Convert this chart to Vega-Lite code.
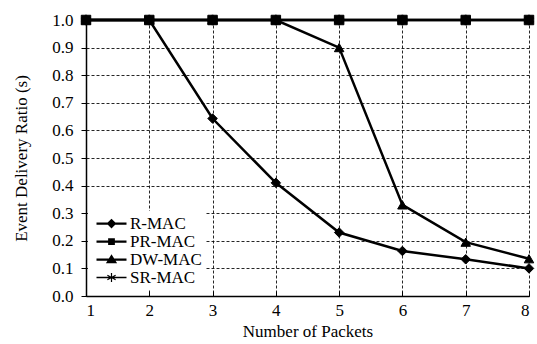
{
  "$schema": "https://vega.github.io/schema/vega-lite/v6.json",
  "width": 443,
  "height": 276,
  "autosize": {"type": "none"},
  "padding": {"left": 86, "top": 20, "right": 8, "bottom": 48},
  "background": "white",
  "view": {"stroke": null},
  "data": {
    "values": [
      {"series": "R-MAC", "x": 1, "y": 1.0},
      {"series": "R-MAC", "x": 2, "y": 1.0},
      {"series": "R-MAC", "x": 3, "y": 0.643},
      {"series": "R-MAC", "x": 4, "y": 0.41},
      {"series": "R-MAC", "x": 5, "y": 0.23},
      {"series": "R-MAC", "x": 6, "y": 0.163},
      {"series": "R-MAC", "x": 7, "y": 0.133},
      {"series": "R-MAC", "x": 8, "y": 0.1},
      {"series": "PR-MAC", "x": 1, "y": 1.0},
      {"series": "PR-MAC", "x": 2, "y": 1.0},
      {"series": "PR-MAC", "x": 3, "y": 1.0},
      {"series": "PR-MAC", "x": 4, "y": 1.0},
      {"series": "PR-MAC", "x": 5, "y": 1.0},
      {"series": "PR-MAC", "x": 6, "y": 1.0},
      {"series": "PR-MAC", "x": 7, "y": 1.0},
      {"series": "PR-MAC", "x": 8, "y": 1.0},
      {"series": "DW-MAC", "x": 1, "y": 1.0},
      {"series": "DW-MAC", "x": 2, "y": 1.0},
      {"series": "DW-MAC", "x": 3, "y": 1.0},
      {"series": "DW-MAC", "x": 4, "y": 1.0},
      {"series": "DW-MAC", "x": 5, "y": 0.9},
      {"series": "DW-MAC", "x": 6, "y": 0.33},
      {"series": "DW-MAC", "x": 7, "y": 0.195},
      {"series": "DW-MAC", "x": 8, "y": 0.135},
      {"series": "SR-MAC", "x": 1, "y": 1.0},
      {"series": "SR-MAC", "x": 2, "y": 1.0},
      {"series": "SR-MAC", "x": 3, "y": 1.0},
      {"series": "SR-MAC", "x": 4, "y": 1.0},
      {"series": "SR-MAC", "x": 5, "y": 1.0},
      {"series": "SR-MAC", "x": 6, "y": 1.0},
      {"series": "SR-MAC", "x": 7, "y": 1.0},
      {"series": "SR-MAC", "x": 8, "y": 1.0}
    ]
  },
  "encoding": {
    "x": {
      "field": "x",
      "type": "quantitative",
      "scale": {"domain": [1, 8], "nice": false, "zero": false},
      "axis": {
        "title": "Number of Packets",
        "values": [1, 2, 3, 4, 5, 6, 7, 8],
        "format": "d",
        "tickSize": -5,
        "tickColor": "#000",
        "labelPadding": 11,
        "labelFont": "Liberation Serif",
        "labelFontSize": 17,
        "labelColor": "#000",
        "titleFont": "Liberation Serif",
        "titleFontSize": 17,
        "titleFontWeight": "normal",
        "titleColor": "#000",
        "titlePadding": 5,
        "domainColor": "#000",
        "domainWidth": 1.5,
        "grid": true,
        "gridColor": "#000",
        "gridDash": [3, 2],
        "gridWidth": 1,
        "gridOpacity": 0.85
      }
    },
    "y": {
      "field": "y",
      "type": "quantitative",
      "scale": {"domain": [0, 1], "nice": false},
      "axis": {
        "title": "Event Delivery Ratio (s)",
        "values": [0, 0.1, 0.2, 0.3, 0.4, 0.5, 0.6, 0.7, 0.8, 0.9, 1.0],
        "format": ".1f",
        "tickSize": 5,
        "tickColor": "#000",
        "labelPadding": 8,
        "labelFont": "Liberation Serif",
        "labelFontSize": 17,
        "labelColor": "#000",
        "titleFont": "Liberation Serif",
        "titleFontSize": 17,
        "titleFontWeight": "normal",
        "titleColor": "#000",
        "titlePadding": 21,
        "domainColor": "#000",
        "domainWidth": 1.5,
        "grid": true,
        "gridColor": "#000",
        "gridDash": [3, 2],
        "gridWidth": 1,
        "gridOpacity": 0.85
      }
    }
  },
  "layer": [
    {
      "mark": {"type": "line", "color": "#000", "strokeWidth": 2.5},
      "encoding": {"detail": {"field": "series"}}
    },
    {
      "mark": {"type": "point", "filled": true, "fill": "#000", "stroke": "#000", "strokeWidth": 1, "opacity": 1, "size": 90},
      "encoding": {
        "shape": {
          "field": "series",
          "type": "nominal",
          "scale": {
            "domain": ["R-MAC", "PR-MAC", "DW-MAC", "SR-MAC"],
            "range": [
              "diamond",
              "square",
              "triangle-up",
              "M-0.18,-1L0.18,-1L0.18,1L-0.18,1ZM0.776,0.656L-0.956,-0.344L-0.776,-0.656L0.956,0.344ZM-0.956,0.344L0.776,-0.656L0.956,-0.344L-0.776,0.656Z"
            ]
          },
          "legend": null
        }
      }
    },
    {
      "transform": [{"filter": "false"}],
      "mark": {"type": "point", "filled": true, "fill": "#000", "opacity": 1},
      "encoding": {
        "shape": {
          "field": "series",
          "type": "nominal",
          "scale": {
            "domain": ["R-MAC", "PR-MAC", "DW-MAC", "SR-MAC"],
            "range": [
              "M-2,-0.15L2,-0.15L2,0.15L-2,0.15ZM0,-0.65L0.65,0L0,0.65L-0.65,0Z",
              "M-2,-0.15L2,-0.15L2,0.15L-2,0.15ZM-0.45,-0.45L0.45,-0.45L0.45,0.45L-0.45,0.45Z",
              "M-2,-0.15L2,-0.15L2,0.15L-2,0.15ZM0,-0.7L0.75,0.5L-0.75,0.5Z",
              "M-2,-0.1L2,-0.1L2,0.1L-2,0.1ZM-0.08,-0.6L0.08,-0.6L0.08,0.6L-0.08,0.6ZM0.512,0.37L-0.588,-0.23L-0.512,-0.37L0.588,0.23ZM-0.588,0.23L0.512,-0.37L0.588,-0.23L-0.512,0.37Z"
            ]
          },
          "legend": {
            "title": null,
            "orient": "none",
            "legendX": 2,
            "legendY": 191,
            "fillColor": "white",
            "padding": 4,
            "symbolSize": 225,
            "symbolFillColor": "#000",
            "symbolStrokeWidth": 0,
            "symbolOpacity": 1,
            "symbolOffset": 11,
            "labelFont": "Liberation Serif",
            "labelFontSize": 17,
            "labelColor": "#000",
            "labelOffset": 10,
            "rowPadding": 0,
            "offset": 0
          }
        }
      }
    }
  ],
  "resolve": {"scale": {"shape": "independent"}}
}
